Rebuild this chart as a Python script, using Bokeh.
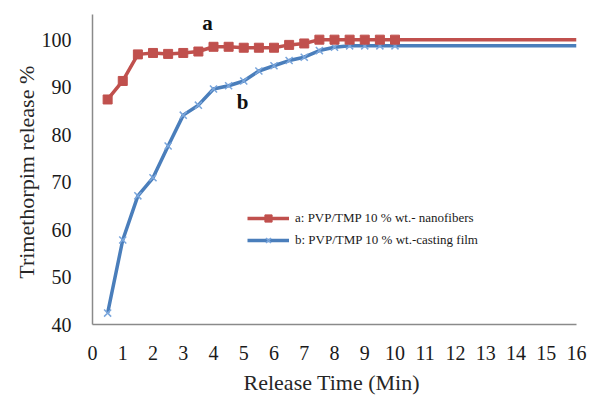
from bokeh.plotting import figure
from bokeh.models import Range1d, FixedTicker, Legend, LegendItem, Label, Title
from bokeh.embed import file_html
from bokeh.resources import INLINE

# ---- data ----
time_min = [0.5, 1, 1.5, 2, 2.5, 3, 3.5, 4, 4.5, 5, 5.5, 6, 6.5, 7, 7.5, 8, 8.5, 9, 9.5, 10]
release_a = [87.4, 91.3, 96.9, 97.2, 97.0, 97.2, 97.5, 98.5, 98.5, 98.3, 98.3, 98.3,
             98.9, 99.2, 100.0, 100.0, 100.0, 100.0, 100.0, 100.0]
release_b = [42.4, 57.8, 67.1, 70.9, 77.6, 84.1, 86.2, 89.6, 90.3, 91.3, 93.4, 94.5,
             95.6, 96.3, 97.7, 98.4, 98.7, 98.7, 98.7, 98.7]
# horizontal continuation of each curve to the end of the axis
end_time = [10, 16]
end_a = [100.0, 100.0]
end_b = [98.7, 98.7]

x_ticks = list(range(0, 17))
y_ticks = [40, 50, 60, 70, 80, 90, 100]

label_a = "a: PVP/TMP 10 % wt.- nanofibers"
label_b = "b: PVP/TMP 10 % wt.-casting film"
x_title = "Release Time  (Min)"
y_title = "Trimethorpim  release %"

RED = "#c0504d"
BLUE = "#4a7ebb"
BLUE_MK = "#7aa6dc"
FONT = "Liberation Serif"

p = figure(width=588, height=400, output_backend="svg", toolbar_location=None,
           x_range=Range1d(0, 16), y_range=Range1d(40, 105.3),
           min_border_left=92, min_border_top=14, min_border_right=12, min_border_bottom=76)

p.outline_line_color = None
p.grid.grid_line_color = None
p.background_fill_color = "white"
p.border_fill_color = "white"

for ax in (p.xaxis[0], p.yaxis[0]):
    ax.axis_line_color = "#8a8a8a"
    ax.axis_line_width = 1.5
    ax.major_tick_in = 0
    ax.major_tick_out = 0
    ax.minor_tick_in = 0
    ax.minor_tick_out = 0
    ax.major_label_text_font = FONT
    ax.major_label_text_font_size = "20px"
    ax.major_label_text_color = "#1a1a1a"

p.xaxis.ticker = FixedTicker(ticks=x_ticks)
p.yaxis.ticker = FixedTicker(ticks=y_ticks)
p.xaxis.major_label_standoff = 21
p.yaxis.major_label_standoff = 21

# axis titles
p.add_layout(Title(text=x_title, align="center", text_font=FONT, text_font_size="22px",
                   text_font_style="normal", text_color="#262626", standoff=11), "below")
p.add_layout(Title(text=y_title, align="center", text_font=FONT, text_font_size="22px",
                   text_font_style="normal", text_color="#262626", standoff=0,
                   offset=-10), "left")

# series b (blue)
lb = p.line(time_min, release_b, line_color=BLUE, line_width=3.5)
p.line(end_time, end_b, line_color=BLUE, line_width=3.5)
sb = p.scatter(time_min, release_b, marker="x", size=10, line_color=BLUE_MK, line_width=1.5)

# series a (red)
la = p.line(time_min, release_a, line_color=RED, line_width=3.5)
p.line(end_time, end_a, line_color=RED, line_width=3.5)
sa = p.scatter(time_min, release_a, marker="square", size=9, fill_color=RED, line_color=RED)

legend = Legend(items=[LegendItem(label=label_a, renderers=[la, sa]),
                       LegendItem(label=label_b, renderers=[lb, sb])],
                location=(155, 75), orientation="vertical",
                padding=0, margin=0, spacing=4,
                label_height=18, glyph_height=18, glyph_width=42, label_standoff=6,
                label_text_font=FONT, label_text_font_size="13px", label_text_color="#1a1a1a",
                border_line_color=None, background_fill_alpha=0)
p.add_layout(legend, "center")

p.add_layout(Label(x=3.8, y=103.6, text="a", text_align="center", text_baseline="middle",
                   text_font=FONT, text_font_size="21px", text_font_style="bold",
                   text_color="#111111"))
p.add_layout(Label(x=4.96, y=86.9, text="b", text_align="center", text_baseline="middle",
                   text_font=FONT, text_font_size="21px", text_font_style="bold",
                   text_color="#111111"))

open("out.html", "w").write(file_html(p, INLINE))
